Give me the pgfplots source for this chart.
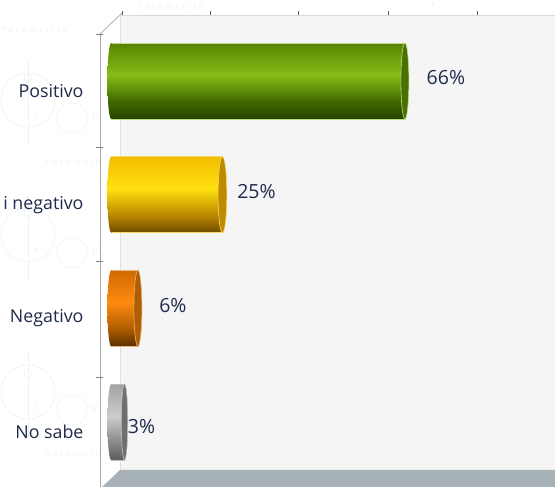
\documentclass[border=0pt]{standalone}
\usepackage{pgfplots}
\pgfplotsset{compat=1.18}
\usepackage{fontspec}
\setmainfont{Open Sans}
\usetikzlibrary{shapes.geometric}
\definecolor{wm}{HTML}{EEF4F6}
\definecolor{txt}{HTML}{1E2B4A}
\definecolor{floorc}{HTML}{A6B2B5}
\definecolor{g0}{HTML}{264000}\definecolor{g1}{HTML}{426B00}\definecolor{g2}{HTML}{86BC18}\definecolor{g3}{HTML}{558500}
\definecolor{y0}{HTML}{6E4A00}\definecolor{y1}{HTML}{BD8A00}\definecolor{y2}{HTML}{FFE010}\definecolor{y3}{HTML}{F2BD00}
\definecolor{o0}{HTML}{5A2E00}\definecolor{o1}{HTML}{B05E00}\definecolor{o2}{HTML}{FF8A10}\definecolor{o3}{HTML}{D06A00}
\definecolor{s0}{HTML}{5C5C5C}\definecolor{s1}{HTML}{8A8A8A}\definecolor{s2}{HTML}{CDCDCD}\definecolor{s3}{HTML}{A2A2A2}
\pgfdeclareverticalshading{barG}{100bp}{color(0bp)=(g0);color(25bp)=(g0);color(37bp)=(g1);color(54bp)=(g2);color(75bp)=(g3);color(100bp)=(g3)}
\pgfdeclareverticalshading{barY}{100bp}{color(0bp)=(y0);color(25bp)=(y0);color(37bp)=(y1);color(54bp)=(y2);color(75bp)=(y3);color(100bp)=(y3)}
\pgfdeclareverticalshading{barO}{100bp}{color(0bp)=(o0);color(25bp)=(o0);color(37bp)=(o1);color(54bp)=(o2);color(75bp)=(o3);color(100bp)=(o3)}
\pgfdeclareverticalshading{barS}{100bp}{color(0bp)=(s0);color(25bp)=(s0);color(37bp)=(s1);color(54bp)=(s2);color(75bp)=(s3);color(100bp)=(s3)}
% one bar: shaded cylinder with left end, body, right end, value label
\newcommand{\cyl}[8]{%
  % #1 value #2 position #3 shading #4 cap colour #5 xshift #6 yshift #7 edge #8 cap x-radius factor
  \addplot[only marks, mark=none,
    nodes near coords={},
    every node near coord/.style={ellipse, minimum width=7.5pt, minimum height=76pt, inner sep=0pt, anchor=center, shade, shading=#3}]
    coordinates {(0,#2)};
  \addplot[xbar, bar shift=0pt, bar width=76pt, draw=#7, line width=0.6pt, shade, shading=#3,
    point meta=x, nodes near coords={\pgfmathprintnumber[assume math mode=true]{\pgfplotspointmeta}\%},
    every node near coord/.style={anchor=center, xshift=#5, yshift=#6, text=txt, font=\fontsize{19.5}{21}\selectfont}]
    coordinates {(#1,#2)};
  \addplot[only marks, mark=*, mark size=38pt,
    mark options={xscale=#8, fill=#4, draw=#7, line width=0.6pt}]
    coordinates {(#1,#2)};
}
\begin{document}
\begin{tikzpicture}[x=1pt,y=1pt]
\useasboundingbox (0,0) rectangle (555,487);
% page, with py measured downward from the top of the picture
\fill[white] (0,0) rectangle (555,487);
\begin{scope}[wm, line width=0.6pt]
  \foreach \cy/\sy in {100/78, 392/373, 235/213}{
    \draw (28,487-\cy) circle (27pt);
    \draw (28,487-\sy) circle (4pt);
    \draw (28,487-\cy-45) -- (28,487-\cy+40);
    \draw (72,487-\cy-18) circle (15pt);
    \node[font=\fontsize{12}{12}\selectfont\itshape] at (95,487-\cy-18) {y};
    \node[font=\fontsize{9}{9}\selectfont\itshape] at (35,487-\cy-16) {z};
  }
  \foreach \tx/\ty in {170/6, 34/29, 78/162, 78/454}
    \node[font=\fontsize{9}{9}\selectfont\itshape] at (\tx,487-\ty) {P a r a m e t r i a};
  \node[font=\fontsize{9}{9}\selectfont\itshape] at (433,487-5) {x};
\end{scope}
% walls and floor
\fill[black!4] (120,487-15) rectangle (555,487-470);
\fill[white] (101,487-34) -- (120,487-15) -- (120,487-470) -- (101,0) -- cycle;
\fill[floorc] (120,487-470) -- (555,487-470) -- (555,0) -- (102,0) -- cycle;
\draw[black!15, line width=0.8pt] (120,487-15) -- (555,487-15);
\draw[black!12, line width=0.6pt] (120,487-15) -- (120,487-470);
\draw[black!35, line width=1pt] (100,487-34) -- (100,0);
\draw[black!30, line width=0.8pt] (100,487-34) -- (122,487-13);
\foreach \py in {35,148,262,378}
  \draw[black!50, line width=1pt] (96,487-\py) -- (103,487-\py);
\foreach \px in {122,210,298,388,477}
  \draw[black!65, line width=0.8pt] (\px,487-11) -- (\px,487-15);
\begin{axis}[
  at={(0,0)}, anchor=south west,
  width=555pt, height=487pt, scale only axis,
  xmin=-24.99, xmax=99.73,
  ymin=-0.7124, ymax=3.5708, y dir=reverse,
  axis line style={draw=none}, tick style={draw=none},
  xtick=\empty,
  ytick={0,1,2,3},
  yticklabels={Positivo,i negativo,Negativo,No sabe},
  yticklabel style={anchor=east, xshift=87pt, yshift=-10pt, text=txt, font=\fontsize{17.8}{20}\selectfont},
  clip=false,
]
\cyl{66}{0}{barG}{g3!85!black}{41pt}{3pt}{g2!55!white}{0.105}
\cyl{25}{1}{barY}{y1}{34pt}{3pt}{y3!60!white}{0.115}
\cyl{6}{2}{barO}{o1}{35pt}{3pt}{o3!50!white}{0.105}
\cyl{3}{3}{barS}{s1!80!black}{17pt}{-4pt}{black!25}{0.085}
\end{axis}
\end{tikzpicture}
\end{document}
